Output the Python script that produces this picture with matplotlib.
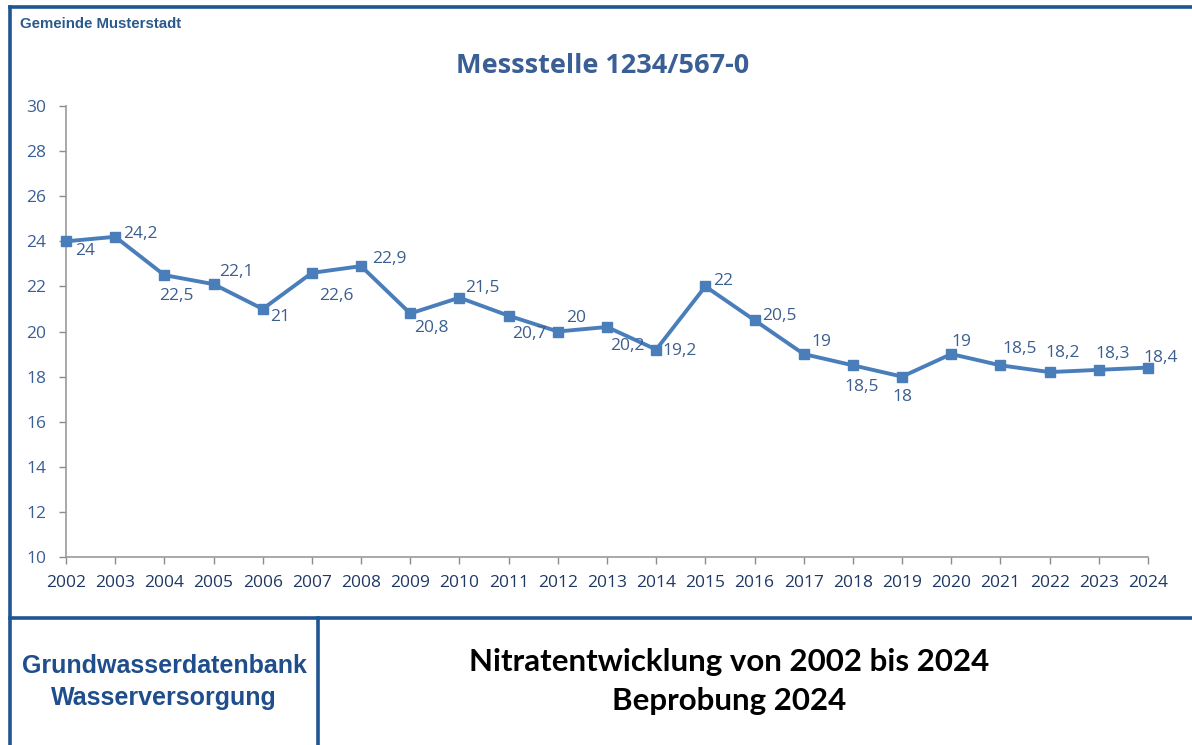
import matplotlib.pyplot as plt
from matplotlib.lines import Line2D

W, H, DPI = 1192, 745, 100

years = list(range(2002, 2025))
nitrat = [24, 24.2, 22.5, 22.1, 21, 22.6, 22.9, 20.8, 21.5, 20.7, 20, 20.2,
          19.2, 22, 20.5, 19, 18.5, 18, 19, 18.5, 18.2, 18.3, 18.4]
y_ticks = list(range(10, 31, 2))

# label offsets in pixels (dx, dy) for every point
label_off = [(19, -10), (25, 3), (12, -21), (23, 12), (17, -8), (24, -23),
             (28, 7), (21, -15), (23, 10), (21, -18), (18, 13), (20, -19),
             (23, -1), (18, 5), (25, 4), (18, 12), (9, -22), (0, -20),
             (10, 12), (19, 16), (13, 19), (14, 16), (13, 10)]

line_col = '#4a7ebb'
label_col = '#3b5f8f'
tick_col = '#2b4a7a'
frame_col = '#1f5592'

fig = plt.figure(figsize=(W / DPI, H / DPI), dpi=DPI)
ax = fig.add_axes([66 / W, 1 - 557 / H, (1148 - 66) / W, (557 - 106) / H])

ax.plot(years, nitrat, color=line_col, linewidth=2.8, marker='s',
        markersize=7, clip_on=False, zorder=3)
for x, y, (dx, dy) in zip(years, nitrat, label_off):
    txt = f'{y:g}'.replace('.', ',')
    ax.annotate(txt, (x, y), xytext=(dx, dy), textcoords='offset pixels',
                ha='center', va='center', fontsize=12.5, color=label_col,
                family='Open Sans')

ax.set_xlim(2002, 2024)
ax.set_ylim(10, 30)
ax.set_xticks(years)
ax.set_yticks(y_ticks)
ax.tick_params(axis='both', colors='#8c8c8c', length=5, width=1,
               labelsize=12.5, direction='out')
ax.tick_params(axis='x', pad=8, labelcolor='#1f3864')
ax.tick_params(axis='y', pad=9, labelcolor='#3a5f94')
for lab in ax.get_xticklabels() + ax.get_yticklabels():
    lab.set_family('Open Sans')
for s in ['top', 'right']:
    ax.spines[s].set_visible(False)
for s in ['left', 'bottom']:
    ax.spines[s].set_color('#9a9a9a')
    ax.spines[s].set_linewidth(1.2)

# frame lines
def fline(x0, y0, x1, y1):
    fig.add_artist(Line2D([x0 / W, x1 / W], [1 - y0 / H, 1 - y1 / H],
                          color=frame_col, linewidth=2.6,
                          transform=fig.transFigure))

fline(10, 7, W, 7)
fline(10, 7, 10, H)
fline(10, 618, W, 618)
fline(318, 618, 318, H)

fig.text(20 / W, 1 - 24 / H, 'Gemeinde Musterstadt', fontsize=10.8,
         fontweight='bold', color='#2a5a8c', family='Liberation Sans',
         va='center')
fig.text(603 / W, 1 - 66 / H, 'Messstelle 1234/567-0', fontsize=19.5,
         fontweight='bold', color='#3a5f94', family='Open Sans',
         ha='center', va='center')
fig.text(164 / W, 1 - 666 / H, 'Grundwasserdatenbank', fontsize=18,
         fontweight='bold', color='#1f4e8c', family='Liberation Sans',
         ha='center', va='center')
fig.text(164 / W, 1 - 698 / H, 'Wasserversorgung', fontsize=18,
         fontweight='bold', color='#1f4e8c', family='Liberation Sans',
         ha='center', va='center')
fig.text(729 / W, 1 - 662 / H, 'Nitratentwicklung von 2002 bis 2024',
         fontsize=22.5, fontweight='bold', color='black', family='Lato',
         ha='center', va='center')
fig.text(729 / W, 1 - 701 / H, 'Beprobung 2024',
         fontsize=22.5, fontweight='bold', color='black', family='Lato',
         ha='center', va='center')

fig.savefig('out.png', dpi=DPI)
